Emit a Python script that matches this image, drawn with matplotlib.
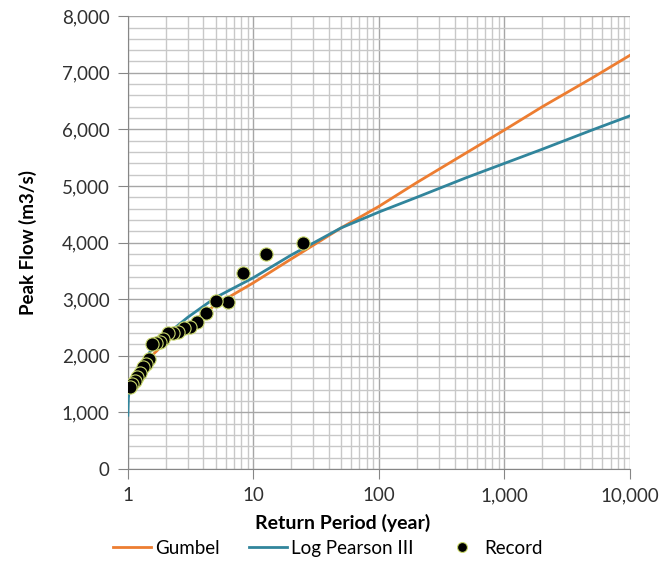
import numpy as np
import matplotlib.pyplot as plt
from matplotlib.ticker import FuncFormatter, MultipleLocator, LogLocator

# return periods (years) and flows (m3/s)
gumbel_T = [1.55, 2, 3, 5, 10, 20, 50, 100, 200, 500, 1000, 2000, 5000, 10000]
gumbel_Q = [2000, 2240, 2540, 2900, 3290, 3710, 4260, 4640, 5060, 5590, 5990, 6400, 6910, 7310]

lp3_T = [1.0, 1.01, 1.03, 1.1, 1.2, 1.5, 2, 3, 5, 10, 20, 50, 100, 200, 500, 1000, 2000, 5000, 10000]
lp3_Q = [950, 1250, 1420, 1600, 1760, 2070, 2360, 2680, 3030, 3380, 3780, 4260, 4540, 4800, 5150, 5400, 5650, 5990, 6240]

rec_T = [25, 12.5, 8.33, 6.25, 5, 4.17, 3.57, 3.125, 2.78, 2.5, 2.27, 2.08,
         1.92, 1.79, 1.67, 1.56, 1.47, 1.39, 1.32, 1.25, 1.19, 1.14, 1.087, 1.04]
rec_Q = [3990, 3800, 3460, 2950, 2960, 2760, 2600, 2510, 2490, 2420, 2400, 2400,
         2300, 2250, 2230, 2200, 1940, 1850, 1800, 1700, 1620, 1560, 1500, 1450]

plt.rcParams['font.family'] = ['Lato', 'DejaVu Sans']

fig = plt.figure(figsize=(6.59, 5.79), dpi=100)
ax = fig.add_axes([0.194, 0.19, 0.762, 0.782])

ax.plot(gumbel_T, gumbel_Q, color='#ED7D31', lw=2, label='Gumbel', zorder=3)
ax.plot(lp3_T, lp3_Q, color='#31859C', lw=2, label='Log Pearson III', zorder=3)
ax.plot(rec_T, rec_Q, 'o', color='black', ms=9.5, mec='#C9D86B', mew=0.8,
        label='Record', zorder=4)

ax.set_xscale('log')
ax.set_xlim(1, 10000)
ax.set_ylim(0, 8000)
ax.yaxis.set_major_locator(MultipleLocator(1000))
ax.yaxis.set_minor_locator(MultipleLocator(200))
ax.xaxis.set_major_locator(LogLocator(base=10))
ax.xaxis.set_minor_locator(LogLocator(base=10, subs=np.arange(2, 10)))
fmt = FuncFormatter(lambda v, p: f'{v:,.0f}')
ax.xaxis.set_major_formatter(fmt)
ax.yaxis.set_major_formatter(fmt)

ax.grid(which='major', color='#A6A6A6', lw=1)
ax.grid(which='minor', color='#C8C8C8', lw=1)
ax.set_axisbelow(True)

for s in ['top', 'right']:
    ax.spines[s].set_visible(False)
for s in ['left', 'bottom']:
    ax.spines[s].set_color('#868686')

ax.tick_params(which='major', length=7, color='#868686', labelsize=13.5, labelcolor='#303030')
ax.tick_params(axis='y', which='major', pad=6)
ax.tick_params(axis='x', which='major', pad=6)
ax.tick_params(which='minor', length=0)

ax.set_ylabel('Peak Flow (m3/s)', fontsize=13.5, fontweight='bold')
ax.yaxis.set_label_coords(-0.18, 0.5)
ax.set_xlabel('Return Period (year)', fontsize=14, fontweight='bold')
ax.xaxis.set_label_coords(0.428, -0.1)

fig.legend(loc='center', bbox_to_anchor=(0.498, 0.053), ncol=3, frameon=False,
           fontsize=13.5, handlelength=2, columnspacing=1.6, handletextpad=0.2,
           markerscale=0.75)

fig.savefig('out.png', dpi=100)
